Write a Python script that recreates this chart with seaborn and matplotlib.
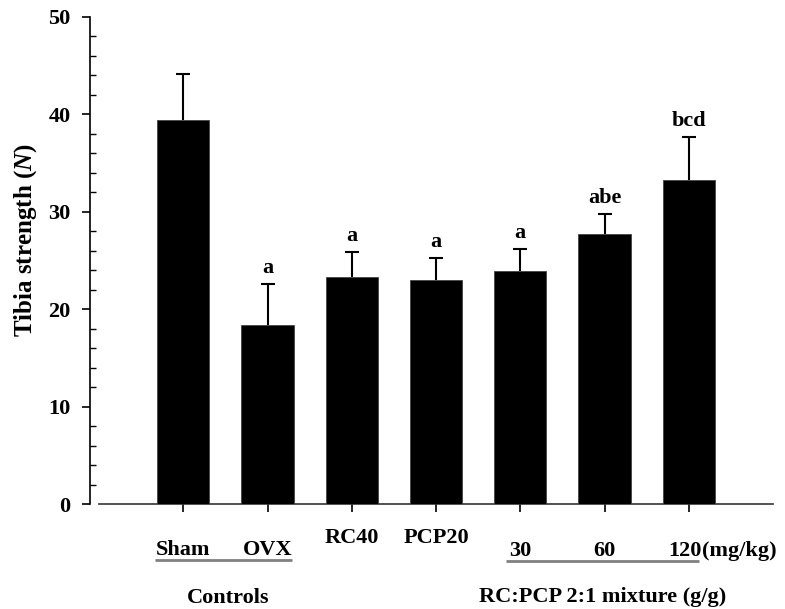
import matplotlib
matplotlib.use("Agg")
import matplotlib.pyplot as plt
import matplotlib.transforms as mtransforms
from matplotlib.ticker import MultipleLocator
import seaborn as sns
import pandas as pd

# ---- data ----
groups = ["Sham", "OVX", "RC40", "PCP20", "30", "60", "120"]
strength = [39.4, 18.4, 23.3, 23.0, 23.9, 27.7, 33.3]
sd = [4.7, 4.2, 2.6, 2.3, 2.3, 2.1, 4.4]
letters = ["", "a", "a", "a", "a", "abe", "bcd"]
yticks = [0, 10, 20, 30, 40, 50]

sns.set_style("white")
plt.rcParams["font.family"] = ["Liberation Serif", "DejaVu Serif"]
plt.rcParams["font.weight"] = "bold"
plt.rcParams["mathtext.fontset"] = "custom"
plt.rcParams["mathtext.it"] = "Liberation Serif:italic:bold"
plt.rcParams["mathtext.rm"] = "Liberation Serif:bold"
plt.rcParams["text.color"] = "black"
plt.rcParams["axes.labelcolor"] = "black"
plt.rcParams["xtick.color"] = "black"
plt.rcParams["ytick.color"] = "black"

df = pd.DataFrame({"group": groups, "strength": strength})

fig = plt.figure(figsize=(7.85, 6.09), dpi=100)
ax = fig.add_axes([99 / 785, 1 - 504 / 609, (773 - 99) / 785, (504 - 17) / 609])

sns.barplot(data=df, x="group", y="strength", order=groups, color="black",
            width=0.62, errorbar=None, edgecolor="#444444", linewidth=0.6,
            saturation=1, ax=ax)
for p in ax.patches:
    p.set_zorder(3)

xs = list(range(len(groups)))
eb = ax.errorbar(xs, strength, yerr=[[0] * len(sd), sd], fmt="none", ecolor="black",
                 elinewidth=1.5, capsize=5, capthick=1.5, zorder=1)
caplines = eb[1]
if len(caplines) == 2:
    caplines[0].set_visible(False)

for x, v, e, lab in zip(xs, strength, sd, letters):
    if lab:
        ax.annotate(lab, xy=(x, v + e), xytext=(0, 7.5), textcoords="offset points",
                    ha="center", va="baseline", fontsize=16, fontweight="bold",
                    color="black")

ax.set_xlim(-1, 7)
ax.set_ylim(0, 50)
ax.set_yticks(yticks)
ax.set_yticklabels([str(t) for t in yticks])
ax.yaxis.set_minor_locator(MultipleLocator(2))
ax.tick_params(axis="y", which="major", direction="out", length=6, width=1.2, pad=8,
               left=True, labelsize=16, color="black", labelcolor="black")
ax.tick_params(axis="y", which="minor", direction="in", length=4, width=1.0,
               left=True, color="black")
ax.tick_params(axis="x", which="major", direction="out", length=6, width=1.2,
               bottom=True, color="black")
for lbl in ax.get_yticklabels():
    lbl.set_fontweight("bold")
ax.set_xticks(xs)
ax.set_xticklabels([""] * len(groups))
ax.set_xlabel("")

for s in ["top", "right"]:
    ax.spines[s].set_visible(False)
ax.spines["left"].set_position(("outward", 6.5))
ax.spines["left"].set_linewidth(1.2)
ax.spines["bottom"].set_linewidth(1.2)
ax.spines["left"].set_color("black")
ax.spines["bottom"].set_color("#333333")

ax.set_ylabel(r"Tibia strength ($\mathit{N}$)", fontsize=18, fontweight="bold",
              color="black")
ax.yaxis.set_label_coords(-0.089, 0.542)

trans = mtransforms.blended_transform_factory(ax.transData, ax.transAxes)
ylev = {"Sham": -0.0945, "OVX": -0.0945, "RC40": -0.0698, "PCP20": -0.0698,
        "30": -0.0965, "60": -0.0965, "120": -0.0965}
xadj = {"120": -0.05}
for x, g in zip(xs, groups):
    ax.text(x + xadj.get(g, 0), ylev[g], g, transform=trans, ha="center", va="center",
            fontsize=16, fontweight="bold", clip_on=False, color="black")
ax.text(6.16, -0.0965, "(mg/kg)", transform=trans, ha="left", va="center",
        fontsize=16, fontweight="bold", clip_on=False, color="black")

ax.plot([-0.335, 1.29], [-0.114, -0.114], transform=trans, color="#808080",
        lw=2, clip_on=False, solid_capstyle="butt")
ax.plot([3.83, 6.12], [-0.117, -0.117], transform=trans, color="#808080",
        lw=2, clip_on=False, solid_capstyle="butt")

ax.text(0.531, -0.192, "Controls", transform=trans, ha="center", va="center",
        fontsize=16, fontweight="bold", clip_on=False, color="black")
ax.text(4.976, -0.191, "RC:PCP 2:1 mixture (g/g)", transform=trans, ha="center",
        va="center", fontsize=16, fontweight="bold", clip_on=False, color="black")

fig.savefig("out.png", dpi=100)
